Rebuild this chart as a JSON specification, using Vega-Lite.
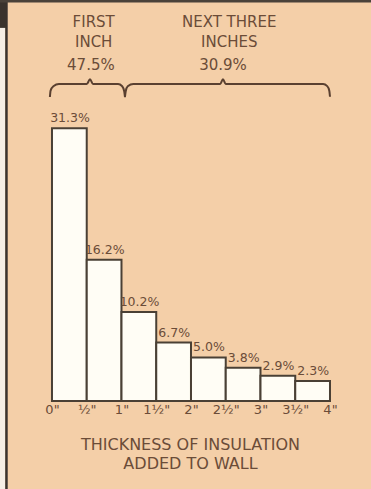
{
  "$schema": "https://vega.github.io/schema/vega-lite/v6.json",
  "width": 371,
  "height": 401,
  "autosize": {"type": "none"},
  "padding": {"left": 0, "top": 0, "right": 0, "bottom": 88},
  "background": "#f4cfa8",
  "config": {"view": {"stroke": null}, "font": "DejaVu Sans"},
  "datasets": {
    "bars": [
      {"start": 0, "end": 0.5, "pct": 31.3, "label": "31.3%"},
      {"start": 0.5, "end": 1, "pct": 16.2, "label": "16.2%"},
      {"start": 1, "end": 1.5, "pct": 10.2, "label": "10.2%"},
      {"start": 1.5, "end": 2, "pct": 6.7, "label": "6.7%"},
      {"start": 2, "end": 2.5, "pct": 5.0, "label": "5.0%"},
      {"start": 2.5, "end": 3, "pct": 3.8, "label": "3.8%"},
      {"start": 3, "end": 3.5, "pct": 2.9, "label": "2.9%"},
      {"start": 3.5, "end": 4, "pct": 2.3, "label": "2.3%"}
    ],
    "braces": [
      {"g": "a", "bx": -0.03, "by": 34.87},
      {"g": "a", "bx": -0.02, "by": 35.6},
      {"g": "a", "bx": 0.02, "by": 36.1},
      {"g": "a", "bx": 0.1, "by": 36.35},
      {"g": "a", "bx": 0.5, "by": 36.35},
      {"g": "a", "bx": 0.547, "by": 36.9},
      {"g": "a", "bx": 0.59, "by": 36.35},
      {"g": "a", "bx": 0.95, "by": 36.35},
      {"g": "a", "bx": 1.01, "by": 36.1},
      {"g": "a", "bx": 1.04, "by": 35.5},
      {"g": "a", "bx": 1.05, "by": 34.87},
      {"g": "b", "bx": 1.05, "by": 34.87},
      {"g": "b", "bx": 1.06, "by": 35.5},
      {"g": "b", "bx": 1.09, "by": 36.1},
      {"g": "b", "bx": 1.17, "by": 36.35},
      {"g": "b", "bx": 2.42, "by": 36.35},
      {"g": "b", "bx": 2.46, "by": 36.9},
      {"g": "b", "bx": 2.5, "by": 36.35},
      {"g": "b", "bx": 3.9, "by": 36.35},
      {"g": "b", "bx": 3.96, "by": 36.12},
      {"g": "b", "bx": 3.99, "by": 35.6},
      {"g": "b", "bx": 4.0, "by": 34.9}
    ],
    "heads": [
      {"hx": 0.6, "hy": 43.42, "t": "FIRST"},
      {"hx": 0.6, "hy": 41.13, "t": "INCH"},
      {"hx": 0.56, "hy": 38.53, "t": "47.5%"},
      {"hx": 2.55, "hy": 43.42, "t": "NEXT THREE"},
      {"hx": 2.55, "hy": 41.13, "t": "INCHES"},
      {"hx": 2.46, "hy": 38.53, "t": "30.9%"}
    ]
  },
  "layer": [
    {
      "data": {"name": "bars"},
      "mark": {"type": "rect", "fill": "#fffdf5", "stroke": "#4a4035", "strokeWidth": 2},
      "encoding": {
        "x": {
          "field": "start", "type": "quantitative",
          "scale": {"domain": [-0.748, 4.59], "nice": false, "zero": false},
          "axis": {
            "values": [0, 0.5, 1, 1.5, 2, 2.5, 3, 3.5, 4],
            "labelExpr": "['0\"','½\"','1\"','1½\"','2\"','2½\"','3\"','3½\"','4\"'][round(datum.value*2)]",
            "domain": false, "ticks": false, "grid": false,
            "labelFontSize": 13, "labelColor": "#6b4c38", "labelPadding": 2,
            "title": ["THICKNESS OF INSULATION", "ADDED TO WALL"],
            "titleFontSize": 16, "titleFontWeight": "normal", "titleColor": "#6b4c38",
            "titleX": 190, "titlePadding": 20, "titleLineHeight": 19
          }
        },
        "x2": {"field": "end"},
        "y": {"field": "pct", "type": "quantitative", "scale": {"domain": [0, 46], "nice": false}, "axis": null},
        "y2": {"datum": 0}
      }
    },
    {
      "data": {"name": "bars"},
      "mark": {"type": "text", "align": "center", "baseline": "bottom", "dx": 18, "dy": -3, "fontSize": 12.5, "color": "#6b4c38"},
      "encoding": {
        "x": {"field": "start", "type": "quantitative"},
        "y": {"field": "pct", "type": "quantitative"},
        "text": {"field": "label"}
      }
    },
    {
      "data": {"name": "braces"},
      "mark": {"type": "line", "interpolate": "monotone", "color": "#5a4030", "strokeWidth": 2},
      "encoding": {
        "x": {"field": "bx", "type": "quantitative"},
        "y": {"field": "by", "type": "quantitative"},
        "detail": {"field": "g"}
      }
    },
    {
      "data": {"name": "heads"},
      "mark": {"type": "text", "baseline": "middle", "fontSize": 15, "color": "#6b4c38"},
      "encoding": {
        "x": {"field": "hx", "type": "quantitative"},
        "y": {"field": "hy", "type": "quantitative"},
        "text": {"field": "t"}
      }
    },
    {
      "data": {"values": [{}]},
      "mark": {"type": "rule", "color": "#f6efe6", "strokeWidth": 5, "clip": false},
      "encoding": {
        "x": {"datum": -0.712},
        "y": {"datum": 46},
        "y2": {"datum": -10.2}
      }
    },
    {
      "data": {"values": [{}]},
      "mark": {"type": "rule", "color": "#3a3430", "strokeWidth": 2.5, "clip": false},
      "encoding": {
        "x": {"datum": -0.655},
        "y": {"datum": 46},
        "y2": {"datum": -10.2}
      }
    },
    {
      "data": {"values": [{}]},
      "mark": {"type": "rule", "color": "#3a332d", "strokeWidth": 7},
      "encoding": {
        "x": {"datum": -0.698},
        "y": {"datum": 46},
        "y2": {"datum": 42.8}
      }
    },
    {
      "data": {"values": [{}]},
      "mark": {"type": "rule", "color": "#4a423a", "strokeWidth": 5},
      "encoding": {"y": {"datum": 46}}
    }
  ]
}
